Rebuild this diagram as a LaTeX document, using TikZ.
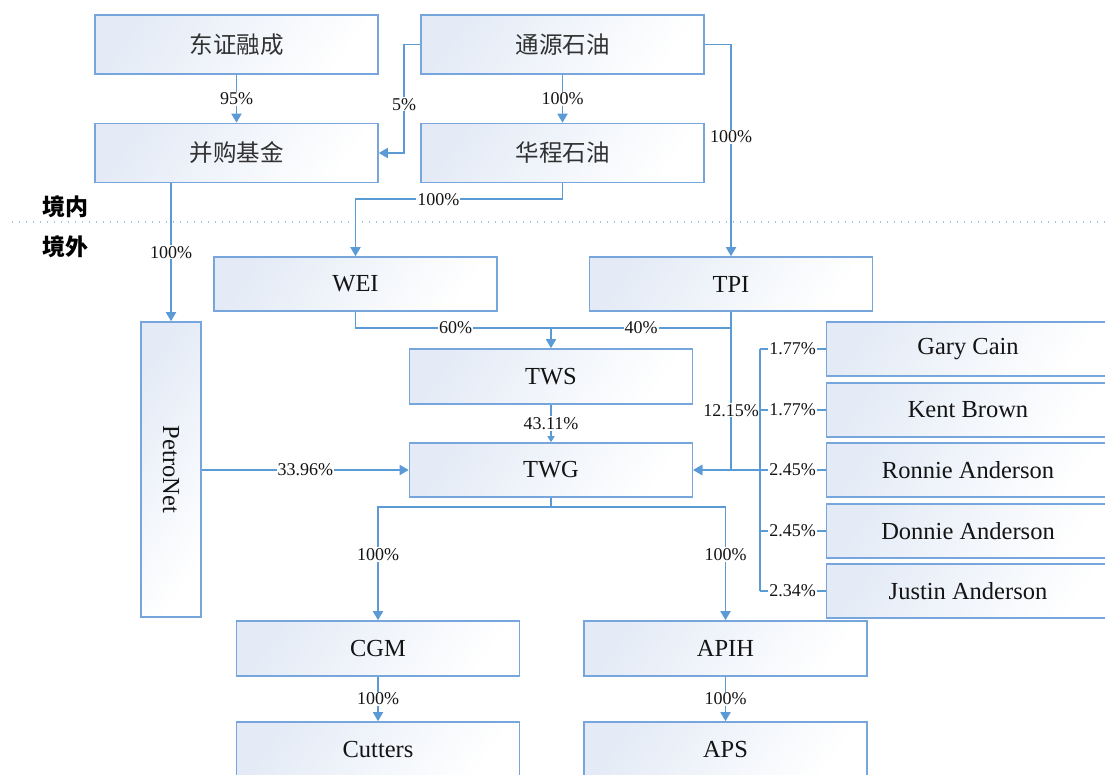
\documentclass[tikz,border=0pt]{standalone}
\usepackage{fontspec}
\setmainfont{Liberation Serif}
\newfontfamily\cjk{Noto Sans CJK SC}
\usetikzlibrary{arrows.meta}
\definecolor{lb}{RGB}{91,155,213}
\definecolor{bb}{RGB}{118,166,220}
\definecolor{fillc}{RGB}{228,235,246}
\definecolor{dotc}{RGB}{157,195,230}
\definecolor{txt}{RGB}{20,20,20}
\definecolor{ctxt}{RGB}{50,50,50}
\begin{document}
\begin{tikzpicture}[x=1pt,y=-1pt,
 box/.style={draw=bb, line width=1.6pt, top color=fillc, bottom color=white, shading angle=55,
   minimum width=283pt, minimum height=55pt, inner sep=0pt, text=txt, font=\fontsize{24.5}{27}\selectfont},
 cbox/.style={box, minimum height=59pt, text=ctxt, font=\cjk\fontsize{23.5}{27}\selectfont},
 link/.style={draw=lb, line width=1.8pt},
 arr/.style={link, -{Triangle[length=9pt,width=10pt]}},
 sarr/.style={link, -{Triangle[length=6pt,width=7pt]}},
 lab/.style={fill=white, inner sep=1pt, font=\fontsize{18}{20}\selectfont, text=txt},
 zone/.style={font=\cjk\bfseries\fontsize{23}{26}\selectfont, text=black},
]
\clip (0,0) rectangle (1105,775);
% zone line
\draw[dotc, line width=1.3pt, dash pattern=on 1.3pt off 5.7pt] (12,222) -- (1105,222);
\node[zone] (jn) at (65.5,207) {境内};
\node[zone] (jw) at (65.5,247) {境外};
% boxes
\node[cbox] (dz) at (236.5,44.5) {东证融成};
\node[cbox] (bg) at (236.5,153) {并购基金};
\node[cbox] (ty) at (562.5,44.5) {通源石油};
\node[cbox] (hc) at (562.5,153) {华程石油};
\node[box, minimum height=54pt] (wei) at (355.5,284) {WEI};
\node[box, minimum height=54pt] (tpi) at (731,284) {TPI};
\node[box, minimum width=60pt, minimum height=295pt] (pn) at (171,469.5) {};
\node[rotate=-90, font=\fontsize{24.5}{27}\selectfont, text=txt] (pnt) at (pn.center) {PetroNet};
\node[box] (tws) at (551,376.5) {TWS};
\node[box, minimum height=54pt] (twg) at (551,470) {TWG};
\node[box, minimum height=54pt] (p1) at (968,349) {Gary Cain};
\node[box, minimum height=54pt] (p2) at (968,410) {Kent Brown};
\node[box, minimum height=54pt] (p3) at (968,470) {Ronnie Anderson};
\node[box, minimum height=54pt] (p4) at (968,531) {Donnie Anderson};
\node[box, minimum height=54pt] (p5) at (968,591) {Justin Anderson};
\node[box] (cgm) at (378,648.5) {CGM};
\node[box] (apih) at (725.5,648.5) {APIH};
\node[box] (cut) at (378,749.5) {Cutters};
\node[box] (aps) at (725.5,749.5) {APS};
% connectors
\draw[arr] (dz.south) -- node[lab]{95\%} (bg.north);
\draw[arr] (ty.west) -- ++(-16,0) |- node[lab,pos=0.275]{5\%} (bg.east);
\draw[arr] (ty.south) -- node[lab]{100\%} (hc.north);
\draw[arr] (ty.east) -| node[lab,pos=0.718]{100\%} (tpi.north);
\draw[arr] (hc.south) -- ++(0,16) -| node[lab,pos=0.3]{100\%} (wei.north);
\draw[arr] (pn.north |- bg.south) -- node[lab]{100\%} (pn.north);
\draw[arr] (wei.south) -- ++(0,16) -| node[lab,pos=0.256]{60\%} (tws.north);
\draw[link] (tpi.south) -- ++(0,16) coordinate (tj) -- node[lab]{40\%} (tj -| tws.north);
\draw[arr] (tj) |- node[lab,pos=0.29]{12.15\%} (twg.east);
\draw[sarr] (tws.south) -- node[lab]{43.11\%} (twg.north);
\draw[arr] (pn.east |- twg.west) -- node[lab]{33.96\%} (twg.west);
% individual holders
\draw[link] (p1.west) -- node[lab]{1.77\%} ++(-66,0) coordinate (b1);
\draw[link] (p2.west) -- node[lab]{1.77\%} ++(-66,0) coordinate (b2);
\draw[link] (p3.west) -- node[lab]{2.45\%} ++(-66,0) coordinate (b3);
\draw[link] (p4.west) -- node[lab]{2.45\%} ++(-66,0) coordinate (b4);
\draw[link] (p5.west) -- node[lab]{2.34\%} ++(-66,0) coordinate (b5);
\draw[link] (b1) -- (b5);
\draw[arr] (b3) -- (twg.east);
% subsidiaries
\draw[arr] (twg.south) -- ++(0,9) -| node[lab,pos=0.71]{100\%} (cgm.north);
\draw[arr] (twg.south) -- ++(0,9) -| node[lab,pos=0.71]{100\%} (apih.north);
\draw[arr] (cgm.south) -- node[lab]{100\%} (cut.north);
\draw[arr] (apih.south) -- node[lab]{100\%} (aps.north);
\end{tikzpicture}
\end{document}
